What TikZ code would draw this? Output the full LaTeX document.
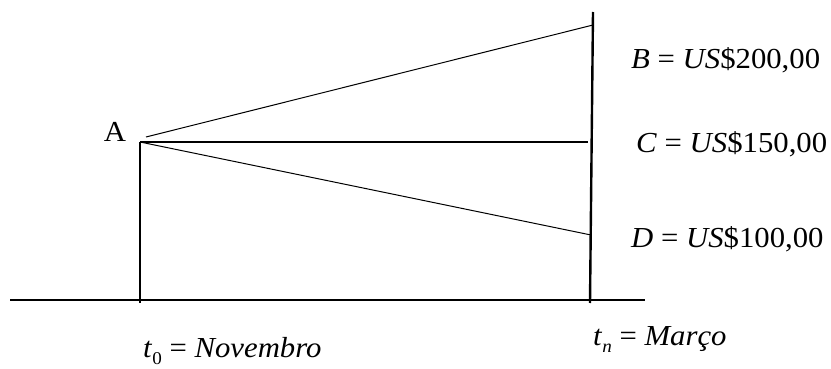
\documentclass[tikz,border=0pt]{standalone}
\usepackage{fontspec}
\setmainfont{Liberation Serif}
\begin{document}
\begin{tikzpicture}[x=1pt,y=-1pt,
  thickline/.style={line width=2.4pt},
  thinline/.style={line width=1pt},
  lbl/.style={inner sep=0pt,font=\fontsize{29}{32}\selectfont,xscale=1.06}]
\useasboundingbox (0,0) rectangle (831,369);
% named points
\coordinate (axL) at (10,300);
\coordinate (axR) at (645,300);
\coordinate (A0) at (140,303);
\coordinate (Apex) at (140,142);
\coordinate (Bstart) at (146,137);
\coordinate (Rtop) at (593,12);
\coordinate (Rbot) at (590,303);
\coordinate (Bend) at (593,25);
\coordinate (Cend) at (588,142);
\coordinate (Dend) at (591,235);
% axis and verticals
\draw[thickline] (axL) -- (axR);
\draw[thickline] (A0) -- (Apex);
\draw[thickline] (Rtop) -- (Rbot);
\draw[thickline] (Apex) -- (Cend);
\draw[thinline] (Bstart) -- (Bend);
\draw[thinline] (Apex) -- (Dend);
% labels
\node[lbl,anchor=base] (lA) at (115,142) {A};
\node[lbl,anchor=base west] (lB) at (631,69) {\textit{B} = \textit{US}\$200,00};
\node[lbl,anchor=base west] (lC) at (636,152) {\textit{C} = \textit{US}\$150,00};
\node[lbl,anchor=base west] (lD) at (631,247) {\textit{D} = \textit{US}\$100,00};
\node[lbl,anchor=base west] (lt0) at (143,357) {\textit{t}\raisebox{-0.6ex}{\fontsize{18}{20}\selectfont 0} = \textit{Novembro}};
\node[lbl,anchor=base west] (ltn) at (593,345) {\textit{t}\raisebox{-0.6ex}{\fontsize{18}{20}\selectfont\textit{n}} = \textit{Março}};
\end{tikzpicture}
\end{document}
